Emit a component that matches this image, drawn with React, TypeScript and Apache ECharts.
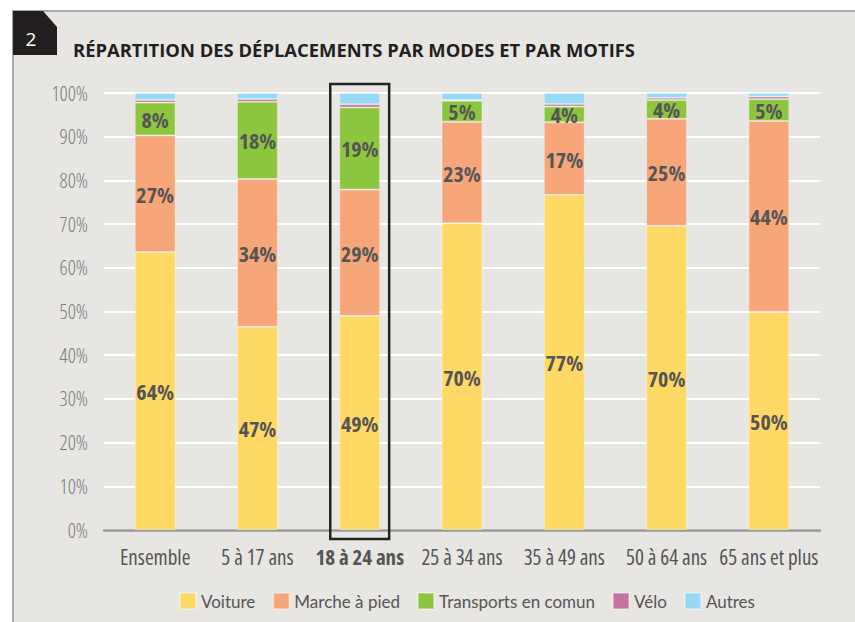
import React, { useEffect, useRef } from 'react';
import * as echarts from 'echarts';

const categories = ['Ensemble', '5 à 17 ans', '18 à 24 ans', '25 à 34 ans', '35 à 49 ans', '50 à 64 ans', '65 ans et plus'];
const highlighted = '18 à 24 ans';
const seriesNames = ['Voiture', 'Marche à pied', 'Transports en comun', 'Vélo', 'Autres'];
const voiture = [63.6, 46.5, 49.0, 70.2, 76.7, 69.6, 49.9];
const marche = [26.7, 33.8, 28.9, 23.2, 16.6, 24.5, 43.7];
const transports = [7.5, 17.7, 18.8, 4.8, 3.6, 4.3, 5.0];
const velo = [0.6, 0.6, 0.7, 0.2, 0.6, 0.5, 0.6];
const autres = [1.6, 1.4, 2.6, 1.6, 2.5, 1.1, 0.8];
const labelled = [true, true, true, false, false];
const colors = ['#ffd966', '#f7a679', '#8cc63f', '#c3739f', '#95d9f5'];
const yTicks = { min: 0, max: 100, interval: 10 };
const title = 'RÉPARTITION DES DÉPLACEMENTS PAR MODES ET PAR MOTIFS';
const chartNumber = '2';

const NARROW = "'Open Sans';font-stretch:85%";
const SANS = "Lato, 'Open Sans', sans-serif";

export default function App() {
  const ref = useRef<HTMLDivElement>(null);
  useEffect(() => {
    if (!ref.current) return;
    const chart = echarts.init(ref.current, undefined, { renderer: 'svg' });
    const allData = [voiture, marche, transports, velo, autres];
    const gridLeft = 104, gridRight = 35, gridTop = 93, gridBottom = 92;
    chart.setOption({
      animation: false,
      backgroundColor: '#e7e6e3',
      grid: { left: gridLeft, right: gridRight, top: gridTop, bottom: gridBottom },
      legend: {
        data: seriesNames,
        left: 174,
        top: 587,
        icon: 'rect',
        itemWidth: 16,
        itemHeight: 16,
        itemGap: 17,
        textStyle: { fontFamily: SANS, fontSize: 17, color: '#555' },
      },
      xAxis: {
        type: 'category',
        data: categories.map((c) => (c === highlighted ? { value: c, textStyle: { fontWeight: 'bold' } } : c)),
        axisTick: { show: false },
        axisLine: { lineStyle: { color: '#9a9a9a', width: 2.5 } },
        axisLabel: {
          interval: 0,
          margin: 22,
          fontFamily: NARROW,
          fontSize: 21,
          color: '#555',
        },
      },
      yAxis: {
        type: 'value',
        min: yTicks.min,
        max: yTicks.max,
        interval: yTicks.interval,
        axisLine: { show: false },
        axisTick: { show: false },
        splitLine: { lineStyle: { color: '#ffffff', width: 2 } },
        axisLabel: {
          formatter: '{value}%',
          margin: 16,
          fontFamily: NARROW,
          fontWeight: 300,
          fontSize: 20,
          color: '#7a7a7a',
        },
      },
      series: seriesNames.map((name, i) => ({
        name,
        type: 'bar',
        stack: 'total',
        barWidth: '40%',
        data: allData[i],
        itemStyle: { color: colors[i], borderColor: 'rgba(255,255,255,0.35)', borderWidth: 1 },
        label: {
          show: labelled[i],
          position: 'inside',
          formatter: (p: any) => `${Math.round(p.value)}%`,
          fontFamily: NARROW,
          fontSize: 22,
          fontWeight: 'bold',
          color: '#555',
        },
      })),
    });

    const cx = chart.convertToPixel({ xAxisIndex: 0 }, highlighted) as number;
    const yTop = chart.convertToPixel({ yAxisIndex: 0 }, yTicks.max) as number;
    const yBottom = chart.convertToPixel({ yAxisIndex: 0 }, yTicks.min) as number;
    const band = (855 - gridLeft - gridRight) / categories.length;
    const half = band * 0.2 + 9;

    chart.setOption({
      graphic: [
        { type: 'rect', shape: { x: 0, y: 0, width: 855, height: 10 }, style: { fill: '#ffffff' }, z: 100 },
        { type: 'rect', shape: { x: 0, y: 0, width: 12, height: 622 }, style: { fill: '#ffffff' }, z: 100 },
        { type: 'line', shape: { x1: 12, y1: 11, x2: 855, y2: 11 }, style: { stroke: '#a9a9a9', lineWidth: 2 }, z: 100 },
        { type: 'line', shape: { x1: 13, y1: 10, x2: 13, y2: 622 }, style: { stroke: '#a9a9a9', lineWidth: 2 }, z: 100 },
        {
          type: 'polygon',
          shape: { points: [[13, 11], [43, 11], [57, 27], [57, 55], [13, 55]] },
          style: { fill: '#231f20' },
          z: 101,
        },
        {
          type: 'text',
          x: 31,
          y: 39,
          style: { text: chartNumber, fill: '#ffffff', fontFamily: "'Open Sans'", fontSize: 19, textAlign: 'center', textVerticalAlign: 'middle' },
          z: 102,
        },
        {
          type: 'text',
          x: 73,
          y: 49,
          style: { text: title, fill: '#231f20', fontFamily: "'Open Sans';font-stretch:90%", fontWeight: 'bold', fontSize: 18.4, textAlign: 'left', textVerticalAlign: 'middle' },
          z: 102,
        },
        {
          type: 'rect',
          shape: { x: cx - half, y: yTop - 9, width: half * 2, height: yBottom - yTop + 18 },
          style: { fill: 'none', stroke: '#222', lineWidth: 2.5 },
          z: 100,
        },
      ],
    });
    return () => chart.dispose();
  }, []);
  return <div ref={ref} style={{ position: 'absolute', left: 0, top: 0, width: 855, height: 622 }} />;
}
